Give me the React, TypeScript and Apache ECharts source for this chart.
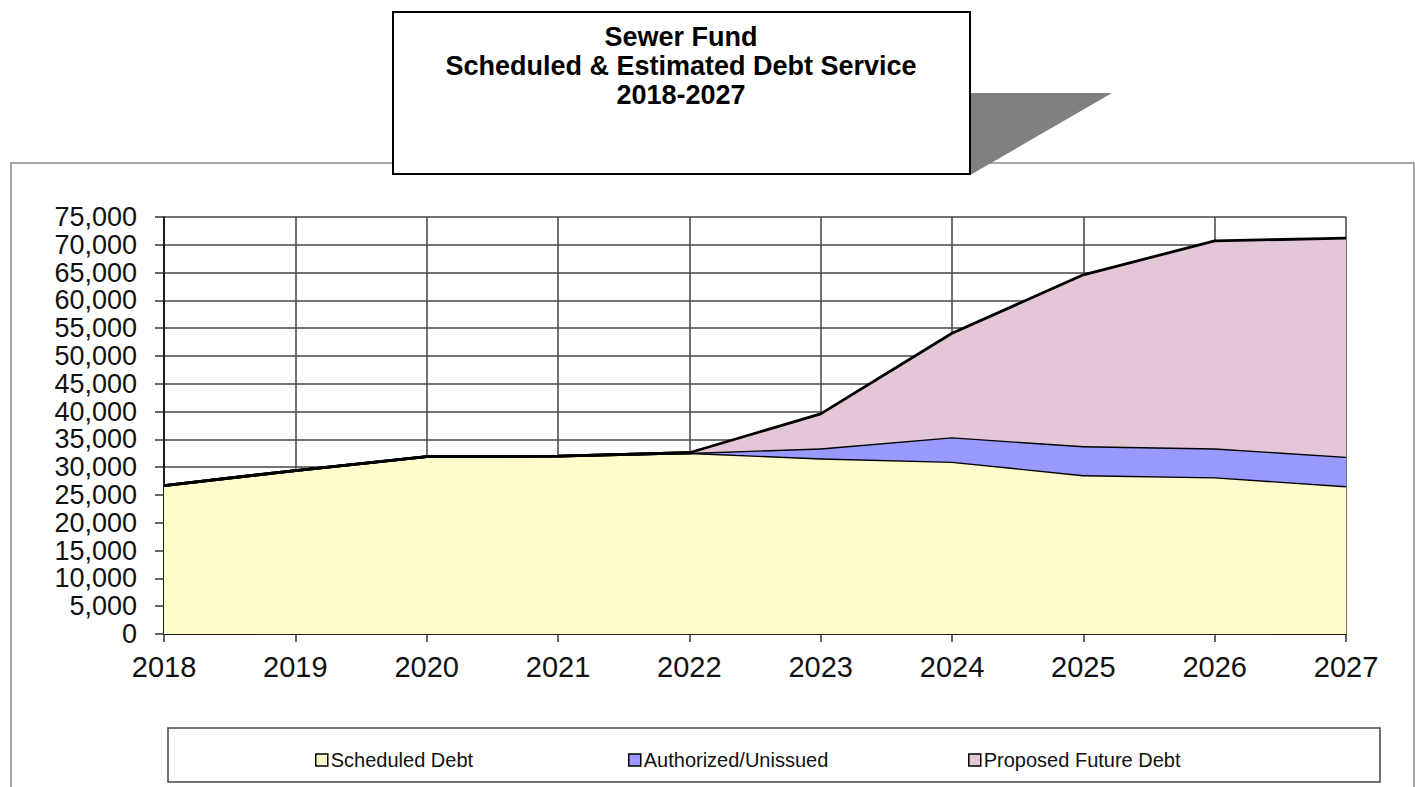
import React, { useEffect, useRef } from "react";
import * as echarts from "echarts";

const years = ["2018", "2019", "2020", "2021", "2022", "2023", "2024", "2025", "2026", "2027"];
const scheduledDebt = [26700, 29400, 31900, 32000, 32600, 31600, 31000, 28600, 28200, 26600];
const authorizedUnissued = [0, 0, 0, 0, 0, 1800, 4400, 5200, 5200, 5300];
const proposedFutureDebt = [0, 0, 0, 0, 0, 6200, 18700, 30800, 37300, 39300];
const titleLines = ["Sewer Fund", "Scheduled & Estimated Debt Service", "2018-2027"];
const seriesNames = ["Scheduled Debt", "Authorized/Unissued", "Proposed Future Debt"];
const seriesColors = ["#FFFCCC", "#9999FF", "#E3C7D8"];

const FONT = "Arial, 'Liberation Sans', Helvetica, sans-serif";

export default function App() {
  const ref = useRef<HTMLDivElement>(null);
  useEffect(() => {
    if (!ref.current) return;
    const chart = echarts.init(ref.current, null, { renderer: "svg" });
    const data = [scheduledDebt, authorizedUnissued, proposedFutureDebt];
    const legendLefts = [310, 623, 963];
    chart.setOption({
      animation: false,
      backgroundColor: "#ffffff",
      textStyle: { fontFamily: FONT },
      grid: { left: 164, top: 217, right: 69, bottom: 153, containLabel: false },
      legend: seriesNames.map((n, i) => ({
        data: [n],
        left: legendLefts[i],
        top: 745,
        orient: "horizontal",
        itemWidth: 12,
        itemHeight: 12,
        icon: "rect",
        textStyle: { fontSize: 20, color: "#111", fontFamily: FONT, padding: [0, 0, 0, -2] },
        itemStyle: { borderColor: "#000", borderWidth: 1.5 },
        selectedMode: false,
      })),
      xAxis: {
        type: "category",
        data: years,
        boundaryGap: false,
        axisLine: { lineStyle: { color: "#000", width: 1.5 } },
        axisTick: { show: true, length: 8, lineStyle: { color: "#333", width: 1.5 } },
        axisLabel: { fontSize: 29, color: "#111", margin: 18, fontFamily: FONT },
        splitLine: { show: true, lineStyle: { color: "#444", width: 1.5 } },
      },
      yAxis: {
        type: "value",
        min: 0,
        max: 75000,
        interval: 5000,
        axisLine: { show: true, lineStyle: { color: "#000", width: 1.5 } },
        axisTick: { show: true, length: 9, lineStyle: { color: "#333", width: 1.5 } },
        axisLabel: {
          fontSize: 27,
          lineHeight: 27,
          color: "#111",
          margin: 27,
          fontFamily: FONT,
          showMinLabel: true,
          showMaxLabel: true,
          hideOverlap: false,
          formatter: (v: number) => v.toLocaleString("en-US"),
        },
        splitLine: { show: true, lineStyle: { color: "#444", width: 1.5 } },
      },
      series: seriesNames.map((n, i) => ({
        name: n,
        type: "line",
        stack: "debt",
        data: data[i],
        symbol: "none",
        smooth: false,
        itemStyle: { color: seriesColors[i], borderColor: "#000", borderWidth: 1.5 },
        lineStyle: { color: "#000", width: 2.8 },
        areaStyle: { color: seriesColors[i], opacity: 1 },
        z: 3 + i,
      })),
      graphic: [
        {
          type: "rect",
          z: -10,
          silent: true,
          shape: { x: 11, y: 163, width: 1403, height: 640 },
          style: { fill: "none", stroke: "#8a8a8a", lineWidth: 1.5 },
        },
        {
          type: "rect",
          z: 1,
          silent: true,
          shape: { x: 168, y: 728, width: 1212, height: 54 },
          style: { fill: "#fff", stroke: "#444", lineWidth: 1.5 },
        },
        {
          type: "polygon",
          z: 10,
          silent: true,
          shape: { points: [[970, 93], [1112, 93], [972, 174], [970, 174]] },
          style: { fill: "#808080" },
        },
        {
          type: "rect",
          z: 11,
          silent: true,
          shape: { x: 393, y: 12, width: 577, height: 162 },
          style: { fill: "#fff", stroke: "#000", lineWidth: 2 },
        },
        ...titleLines.map((t, i) => ({
          type: "text",
          z: 12,
          silent: true,
          x: 681,
          y: 37 + i * 29,
          style: {
            text: t,
            fill: "#000",
            font: `bold 27px ${FONT}`,
            textAlign: "center",
            textVerticalAlign: "middle",
          },
        })),
      ],
    });
    return () => chart.dispose();
  }, []);
  return <div ref={ref} style={{ position: "fixed", left: 0, top: 0, width: 1415, height: 787 }} />;
}
